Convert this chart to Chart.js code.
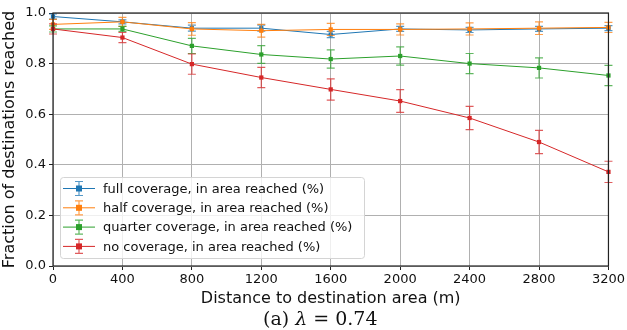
<!DOCTYPE html>
<html>
<head>
<meta charset="utf-8">
<script src="https://cdn.jsdelivr.net/npm/chart.js@4/dist/chart.umd.min.js"></script>
<style>
html,body{margin:0;padding:0;background:#fff;}
#wrap{width:627px;height:330px;position:relative;}
</style>
</head>
<body>
<div id="wrap"><canvas id="c" width="627" height="330"></canvas></div>
<script>
const distances = [0, 400, 800, 1200, 1600, 2000, 2400, 2800, 3200];
const xTicks = [0, 400, 800, 1200, 1600, 2000, 2400, 2800, 3200];
const yTicks = [0.0, 0.2, 0.4, 0.6, 0.8, 1.0];

const fullCov     = [0.986, 0.965, 0.940, 0.940, 0.915, 0.937, 0.933, 0.937, 0.940];
const fullErr     = [0.010, 0.008, 0.012, 0.012, 0.012, 0.010, 0.010, 0.010, 0.010];
const halfCov     = [0.955, 0.965, 0.937, 0.930, 0.935, 0.935, 0.937, 0.940, 0.943];
const halfErr     = [0.020, 0.018, 0.025, 0.025, 0.024, 0.022, 0.024, 0.025, 0.020];
const quarterCov  = [0.937, 0.937, 0.870, 0.836, 0.818, 0.830, 0.800, 0.783, 0.753];
const quarterErr  = [0.012, 0.010, 0.030, 0.035, 0.036, 0.036, 0.040, 0.040, 0.040];
const noCov       = [0.937, 0.903, 0.798, 0.745, 0.698, 0.652, 0.585, 0.490, 0.372];
const noErr       = [0.020, 0.020, 0.040, 0.040, 0.042, 0.045, 0.046, 0.046, 0.042];

const labels = [
  'full coverage, in area reached (%)',
  'half coverage, in area reached (%)',
  'quarter coverage, in area reached (%)',
  'no coverage, in area reached (%)'
];
const colors = ['#1f77b4', '#ff7f0e', '#2ca02c', '#d62728'];
const values = [fullCov, halfCov, quarterCov, noCov];
const errors = [fullErr, halfErr, quarterErr, noErr];

function rgba(hex, a) {
  const n = parseInt(hex.slice(1), 16);
  return `rgba(${(n >> 16) & 255},${(n >> 8) & 255},${n & 255},${a})`;
}

const FONT = "'DejaVu Sans', sans-serif";

const datasets = values.map((v, i) => ({
  label: labels[i],
  data: distances.map((d, j) => ({ x: d, y: v[j] })),
  errs: errors[i],
  borderColor: colors[i],
  backgroundColor: colors[i],
  borderWidth: 1,
  pointStyle: 'rect',
  pointRadius: 3,
  pointBorderWidth: 0,
  pointBackgroundColor: colors[i],
  tension: 0,
  order: 4 - i,
  clip: false
}));

const errorBarPlugin = {
  id: 'errorBars',
  afterDatasetsDraw(chart) {
    // draw error bars per dataset, in drawing order (back to front)
  },
  beforeDatasetDraw(chart, args) {
    const ds = chart.data.datasets[args.index];
    const xs = chart.scales.x, ys = chart.scales.y;
    const ctx = chart.ctx;
    ctx.save();
    ctx.strokeStyle = rgba(ds.borderColor, 0.75);
    ctx.lineWidth = 1.2;
    ds.data.forEach((p, j) => {
      const e = ds.errs[j];
      const px = xs.getPixelForValue(p.x);
      const y1 = ys.getPixelForValue(p.y + e);
      const y2 = ys.getPixelForValue(p.y - e);
      ctx.beginPath();
      ctx.moveTo(px, y1); ctx.lineTo(px, y2);
      ctx.moveTo(px - 4, y1); ctx.lineTo(px + 4, y1);
      ctx.moveTo(px - 4, y2); ctx.lineTo(px + 4, y2);
      ctx.stroke();
    });
    ctx.restore();
  }
};

const framePlugin = {
  id: 'frame',
  afterDatasetsDraw(chart) {
    const { ctx, chartArea: a } = chart;
    ctx.save();
    ctx.strokeStyle = '#222';
    ctx.lineWidth = 1.2;
    ctx.strokeRect(a.left, a.top, a.right - a.left, a.bottom - a.top);
    ctx.restore();
  }
};

const legendPlugin = {
  id: 'boxLegend',
  afterDraw(chart) {
    const { ctx, chartArea: a } = chart;
    const x0 = a.left + 7, y0 = a.bottom - 89, w = 304, h = 81;
    ctx.save();
    ctx.fillStyle = 'rgba(255,255,255,0.8)';
    ctx.strokeStyle = '#d4d4d4';
    ctx.lineWidth = 1;
    ctx.beginPath();
    ctx.roundRect(x0 + 0.5, y0 + 0.5, w, h, 3);
    ctx.fill();
    ctx.stroke();
    ctx.font = `13px ${FONT}`;
    ctx.textBaseline = 'middle';
    chart.data.datasets.forEach((ds, i) => {
      const cy = y0 + 11.5 + i * 19.3;
      const c = ds.borderColor;
      ctx.strokeStyle = c;
      ctx.lineWidth = 1;
      ctx.beginPath();
      ctx.moveTo(x0 + 3, cy); ctx.lineTo(x0 + 35, cy);
      ctx.stroke();
      ctx.strokeStyle = rgba(c, 0.75);
      ctx.lineWidth = 1.2;
      const mx = x0 + 19;
      ctx.beginPath();
      ctx.moveTo(mx, cy - 7); ctx.lineTo(mx, cy + 7);
      ctx.moveTo(mx - 4, cy - 7); ctx.lineTo(mx + 4, cy - 7);
      ctx.moveTo(mx - 4, cy + 7); ctx.lineTo(mx + 4, cy + 7);
      ctx.stroke();
      ctx.fillStyle = c;
      ctx.fillRect(mx - 3, cy - 3, 6, 6);
      ctx.fillStyle = '#111';
      ctx.fillText(ds.label, x0 + 43, cy + 1);
    });
    // caption
    ctx.font = `19px 'DejaVu Serif', 'Liberation Serif', serif`;
    ctx.fillStyle = '#111';
    ctx.textBaseline = 'alphabetic';
    ctx.textAlign = 'left';
    const cx = 263, cyy = 325;
    ctx.fillText('(a) ', cx, cyy);
    let off = ctx.measureText('(a) ').width;
    ctx.font = `italic 19px 'DejaVu Serif', 'Liberation Serif', serif`;
    ctx.fillText('λ', cx + off, cyy);
    off += ctx.measureText('λ').width;
    ctx.font = `19px 'DejaVu Serif', 'Liberation Serif', serif`;
    ctx.fillText(' = 0.74', cx + off, cyy);
    ctx.restore();
  }
};

new Chart(document.getElementById('c'), {
  type: 'line',
  data: { datasets },
  options: {
    responsive: false,
    animation: false,
    layout: { padding: { top: 13, right: 16, bottom: 22, left: 0 } },
    plugins: {
      legend: { display: false },
      tooltip: { enabled: false }
    },
    scales: {
      x: {
        type: 'linear',
        min: 0, max: 3200,
        afterBuildTicks(s) { s.ticks = xTicks.map(v => ({ value: v })); },
        afterFit(s) { s.height = 42; },
        ticks: {
          color: '#111',
          font: { family: FONT, size: 13 },
          padding: 2,
          maxRotation: 0,
          callback: v => String(v)
        },
        grid: { color: '#b0b0b0', lineWidth: 1, tickLength: 4, tickColor: '#222' },
        border: { display: false },
        title: {
          display: true,
          text: 'Distance to destination area (m)',
          color: '#111',
          font: { family: FONT, size: 16 },
          padding: { top: 0, bottom: 0 }
        }
      },
      y: {
        type: 'linear',
        min: 0, max: 1,
        afterBuildTicks(s) { s.ticks = yTicks.map(v => ({ value: v })); },
        afterFit(s) { s.width = 53; },
        ticks: {
          color: '#111',
          font: { family: FONT, size: 13 },
          padding: 3,
          callback: v => Number(v).toFixed(1)
        },
        grid: { color: '#b0b0b0', lineWidth: 1, tickLength: 4, tickColor: '#222' },
        border: { display: false },
        title: {
          display: true,
          text: 'Fraction of destinations reached',
          color: '#111',
          font: { family: FONT, size: 16 },
          padding: { top: 0, bottom: 2 }
        }
      }
    }
  },
  plugins: [errorBarPlugin, framePlugin, legendPlugin]
});
</script>
</body>
</html>
